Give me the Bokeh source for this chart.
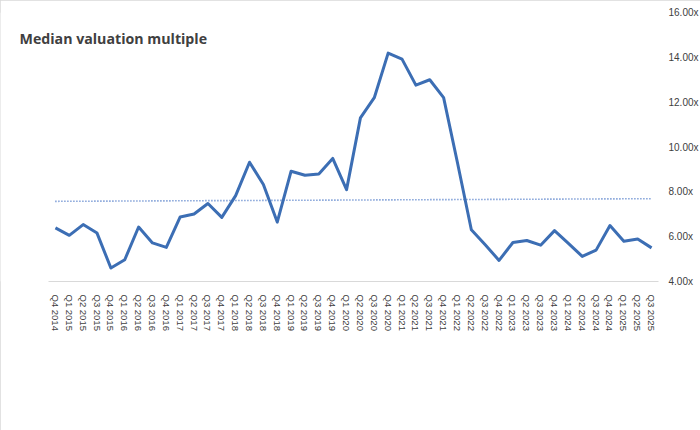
import numpy as np
from bokeh.plotting import figure
from bokeh.models import FixedTicker, PrintfTickFormatter, Label, Range1d
from bokeh.embed import file_html
from bokeh.resources import INLINE

quarters = ["Q4 2014",
            "Q1 2015", "Q2 2015", "Q3 2015", "Q4 2015",
            "Q1 2016", "Q2 2016", "Q3 2016", "Q4 2016",
            "Q1 2017", "Q2 2017", "Q3 2017", "Q4 2017",
            "Q1 2018", "Q2 2018", "Q3 2018", "Q4 2018",
            "Q1 2019", "Q2 2019", "Q3 2019", "Q4 2019",
            "Q1 2020", "Q2 2020", "Q3 2020", "Q4 2020",
            "Q1 2021", "Q2 2021", "Q3 2021", "Q4 2021",
            "Q1 2022", "Q2 2022", "Q3 2022", "Q4 2022",
            "Q1 2023", "Q2 2023", "Q3 2023", "Q4 2023",
            "Q1 2024", "Q2 2024", "Q3 2024", "Q4 2024",
            "Q1 2025", "Q2 2025", "Q3 2025"]

multiple = [6.39,
            6.06, 6.54, 6.16, 4.60,
            4.97, 6.43, 5.72, 5.52,
            6.88, 7.01, 7.48, 6.86,
            7.83, 9.32, 8.33, 6.65,
            8.92, 8.74, 8.80, 9.49,
            8.10, 11.30, 12.20, 14.19,
            13.92, 12.76, 13.00, 12.20,
            9.30, 6.31, 5.64, 4.94,
            5.74, 5.83, 5.62, 6.27,
            5.70, 5.12, 5.40, 6.50,
            5.80, 5.90, 5.50]

y_ticks = [4, 6, 8, 10, 12, 14, 16]
title_text = "Median valuation multiple"

n = len(quarters)
idx = np.arange(n)
coef = np.polyfit(idx, multiple, 1)
trend = np.polyval(coef, idx)

# frame spans from the canvas left edge; category area starts 48px in
frame_w = 658
cat_left_px = 48
unit_px = (frame_w - cat_left_px) / n
x_start = -0.5 - cat_left_px / unit_px

p = figure(frame_width=frame_w, frame_height=269, output_backend="svg", toolbar_location=None,
           x_range=Range1d(x_start, n - 0.5), y_range=Range1d(4, 16),
           y_axis_location="right", min_border_left=0, min_border_top=12,
           min_border_right=42, min_border_bottom=149)
p.styles = {"outline": "1px solid #D9D9D9", "outline-offset": "-1px"}
p.outline_line_color = None
p.grid.visible = False
p.background_fill_color = "white"
p.border_fill_color = "white"

p.line(idx, trend, line_color="#4472C4", line_width=1.6, line_dash="1 2")
p.line(idx, multiple, line_color="#3C6EB4", line_width=3, line_join="round")

xa = p.xaxis[0]
xa.bounds = (-0.5, n - 0.5)
xa.ticker = FixedTicker(ticks=list(idx))
xa.major_label_overrides = {int(i): q for i, q in zip(idx, quarters)}
xa.major_label_orientation = "vertical"
xa.axis_line_color = "#D9D9D9"
xa.axis_line_width = 1
xa.major_tick_line_color = None
xa.minor_tick_line_color = None
xa.major_label_standoff = 7
xa.major_label_text_font = "Liberation Sans"
xa.major_label_text_font_size = "9.5px"
xa.major_label_text_color = "#404040"

ya = p.yaxis[0]
ya.ticker = FixedTicker(ticks=y_ticks)
ya.formatter = PrintfTickFormatter(format="%.2fx")
ya.axis_line_color = None
ya.major_tick_line_color = None
ya.minor_tick_line_color = None
ya.major_label_standoff = 4
ya.major_label_text_font = "Liberation Sans"
ya.major_label_text_font_size = "10px"
ya.major_label_text_color = "#404040"

title = Label(x=-0.5, y=16, x_offset=-29, y_offset=-26, text=title_text,
              text_font="Open Sans", text_font_style="bold", text_font_size="14.2px",
              text_color="#404040", text_baseline="alphabetic")
p.add_layout(title)

open("out.html", "w").write(file_html(p, INLINE))
